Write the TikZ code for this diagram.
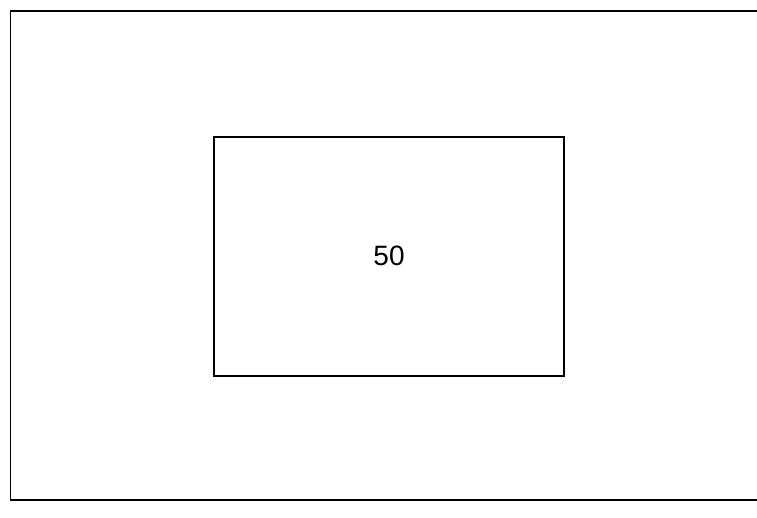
\documentclass[tikz,border=0pt]{standalone}
\usepackage{fontspec}
\setmainfont{Liberation Sans}
\begin{document}
\begin{tikzpicture}[x=1pt,y=-1pt,
  frameline/.style={draw=black,line width=1.4pt},
  boxstyle/.style={draw=black,line width=1.4pt,fill=white,minimum width=350pt,minimum height=239pt,inner sep=0pt}]
\useasboundingbox (0,0) rectangle (757,517);
\coordinate (tr) at (757,11);
\coordinate (tl) at (10.5,11);
\coordinate (bl) at (10.5,500);
\coordinate (br) at (757,500);
\draw[frameline] (tr) -- (tl) -- (bl) -- (br);
\node[boxstyle] (box) at (389,256.5) {};
\node[font=\fontsize{28}{30}\selectfont] (lbl) at (389,256) {50};
\end{tikzpicture}
\end{document}
